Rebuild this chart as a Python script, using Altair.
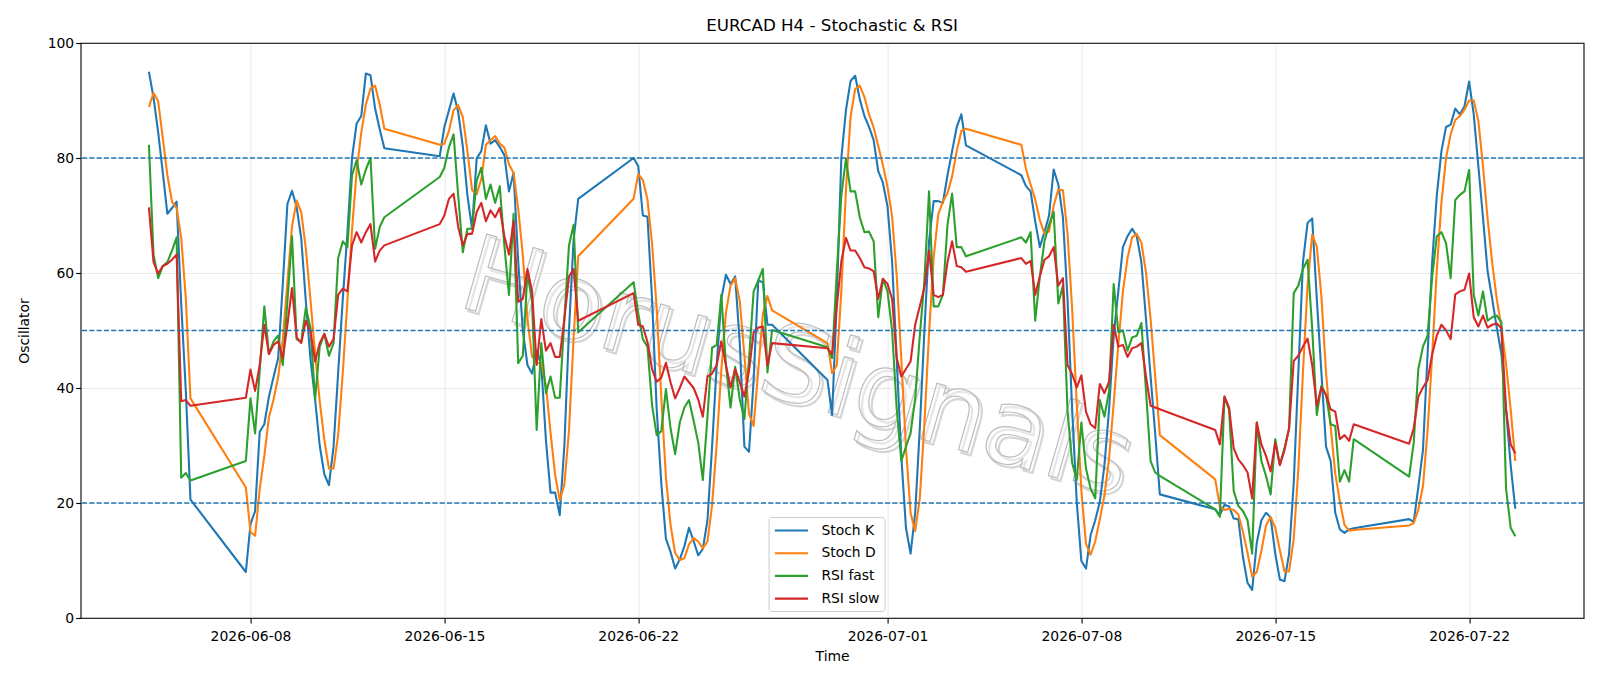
import altair as alt
import pandas as pd

# H4 bars: first bar of each trading session and number of bars in it
session_starts = [
    "2026-06-04 08:00", "2026-06-07 20:00", "2026-06-14 20:00", "2026-06-21 20:00",
    "2026-06-28 20:00", "2026-07-05 20:00", "2026-07-12 20:00", "2026-07-19 20:00",
]
session_bars = [10, 31, 31, 31, 31, 31, 31, 24]

stoch_k = [
    95.0, 90.5, 84.5, 77.5, 70.3, 71.3, 72.4, 54.6, 39.4, 20.6,
    8.0, 16.3, 18.6, 32.4, 33.7, 38.5, 41.9, 45.2, 58.0, 72.0, 74.3, 71.5, 66.0, 55.0, 45.0, 38.0,
    30.0, 25.0, 23.1, 29.8, 42.7, 55.5, 67.0, 80.0, 86.0, 87.3, 94.7, 94.4, 88.6, 85.0, 81.7,
    80.3, 85.4, 88.3, 91.2, 88.0, 82.0, 73.5, 67.7, 79.9, 81.2, 85.7, 82.5, 83.1, 81.9, 80.5, 74.2,
    77.4, 62.0, 50.0, 44.0, 42.5, 46.5, 44.0, 31.0, 21.8, 21.8, 17.9, 30.0, 50.0, 65.8, 72.9,
    80.0, 78.6, 70.0, 69.8, 55.5, 36.3, 23.4, 13.8, 11.5, 8.6, 10.2, 12.5, 15.7, 13.4, 10.9, 12.0,
    17.0, 29.8, 44.0, 55.5, 59.7, 58.1, 59.4, 47.8, 29.8, 28.9, 41.4, 58.7, 58.4, 51.0, 51.0,
    41.4, 35.3, 55.0, 80.0, 88.3, 93.4, 94.3, 90.2, 87.3, 85.4, 83.1, 77.7, 75.7, 71.6, 62.0, 45.0,
    28.0, 15.7, 11.2, 18.3, 33.0, 50.0, 65.5, 72.5, 72.5, 72.2, 77.0, 81.2, 85.4, 87.6, 82.2,
    77.0, 75.1, 74.2, 69.0, 64.5, 67.1, 70.0, 78.0, 75.4, 69.7, 55.5, 36.3, 20.2, 9.9, 8.6, 14.4,
    17.0, 20.2, 26.6, 36.3, 49.1, 56.8, 64.5, 66.4, 67.7, 66.4, 61.9, 52.0, 42.0, 32.0, 21.5,
    18.9, 17.9, 19.7, 19.4, 17.3, 17.2, 10.6, 6.1, 4.9, 13.1, 17.0, 18.3, 17.5, 11.2, 6.7, 6.4,
    11.2, 23.4, 42.7, 61.9, 68.7, 69.5, 55.5, 42.7, 29.8, 27.3, 18.3, 15.4, 14.8, 15.4, 15.6,
    17.2, 16.7, 22.8, 29.2, 45.9, 62.0, 73.5, 81.2, 85.4, 85.8, 88.6, 87.6, 89.0, 93.3, 87.6, 78.6,
    69.7, 60.3, 55.5, 50.4, 45.9, 36.3, 26.6, 19.0,
]

stoch_d = [
    88.9, 91.3, 89.9, 83.5, 77.0, 72.4, 71.3, 66.1, 55.5, 38.2,
    22.7, 15.0, 14.3, 22.4, 28.2, 34.9, 38.0, 41.9, 48.4, 58.4, 68.1, 72.6, 70.6, 64.2, 55.3, 46.0,
    37.7, 31.0, 26.0, 26.0, 31.9, 42.7, 55.1, 67.5, 77.7, 84.4, 89.3, 92.1, 92.6, 89.3, 85.1,
    82.3, 82.5, 84.7, 88.3, 89.2, 87.1, 81.2, 74.4, 73.7, 76.3, 82.3, 83.1, 83.8, 82.5, 81.8, 78.9,
    77.4, 71.2, 63.1, 52.0, 45.5, 44.3, 44.3, 40.5, 32.3, 24.9, 20.5, 23.2, 32.6, 48.6, 62.9,
    72.9, 77.2, 76.2, 72.8, 65.1, 53.9, 38.4, 24.5, 16.2, 11.3, 10.1, 10.4, 12.8, 13.9, 13.3, 12.1,
    13.3, 19.6, 30.3, 43.1, 53.1, 57.8, 59.1, 55.1, 45.7, 35.5, 33.4, 43.0, 52.8, 56.0, 53.5,
    47.8, 42.6, 43.9, 56.8, 74.4, 87.2, 92.0, 92.6, 90.6, 87.6, 85.3, 82.1, 78.8, 75.0, 69.8, 59.5,
    45.0, 29.6, 18.3, 15.1, 20.8, 33.8, 49.5, 62.7, 70.2, 72.4, 73.9, 76.8, 81.2, 84.7, 85.1,
    82.3, 78.1, 75.4, 72.8, 69.2, 66.9, 67.2, 71.7, 74.5, 74.4, 66.9, 53.8, 37.3, 22.1, 12.9, 11.0,
    13.3, 17.2, 21.3, 27.7, 37.3, 47.4, 56.8, 62.6, 66.2, 66.8, 65.3, 60.1, 52.0, 42.0, 31.8,
    24.1, 19.4, 18.8, 19.0, 18.8, 18.0, 15.0, 11.3, 7.2, 8.0, 11.7, 16.1, 17.6, 15.7, 11.8, 8.1,
    8.1, 13.7, 25.8, 42.7, 57.8, 66.7, 64.6, 55.9, 42.7, 33.3, 25.1, 20.3, 16.2, 15.2, 15.3,
    16.1, 16.5, 18.9, 22.9, 32.6, 45.7, 60.5, 72.2, 80.0, 84.1, 86.6, 87.3, 88.4, 90.0, 90.0, 86.5,
    78.6, 69.5, 61.8, 55.4, 50.6, 44.2, 36.3, 27.3,
]

rsi_fast = [
    82.3, 63.2, 59.1, 61.2, 61.9, 63.9, 66.2, 24.4, 25.2, 23.9,
    27.3, 38.2, 32.1, 43.0, 54.2, 45.9, 48.1, 49.1, 44.0, 55.0, 66.4, 48.5, 48.0, 54.0, 50.5, 38.0,
    47.2, 49.4, 45.6, 47.8, 62.6, 65.5, 64.5, 77.0, 79.6, 75.4, 78.0, 80.0, 64.2, 68.0, 69.7,
    76.7, 78.3, 81.9, 84.1, 73.5, 63.6, 67.7, 67.7, 76.0, 78.3, 72.9, 75.4, 72.2, 75.1, 64.8, 56.2,
    70.3, 44.3, 45.6, 60.0, 55.0, 32.7, 47.8, 39.1, 42.0, 38.3, 38.3, 52.0, 64.8, 68.4, 49.7,
    58.4, 53.0, 48.5, 47.2, 37.0, 31.8, 32.5, 39.8, 33.0, 28.5, 34.0, 36.6, 37.9, 34.3, 30.5, 24.0,
    35.0, 47.0, 47.5, 56.2, 44.0, 36.6, 43.7, 38.0, 34.6, 45.0, 56.8, 58.7, 60.7, 42.7, 50.1,
    47.1, 45.2, 60.0, 73.5, 79.9, 74.2, 74.2, 69.7, 67.1, 67.2, 65.5, 52.3, 59.0, 56.8, 50.0, 36.3,
    27.3, 29.8, 32.1, 38.2, 49.1, 58.7, 74.2, 54.2, 54.2, 56.2, 68.4, 73.8, 64.5, 64.5, 62.9,
    66.2, 65.3, 67.1, 51.7, 59.4, 65.5, 68.4, 70.6, 54.7, 57.8, 36.0, 27.0, 24.0, 34.0, 26.0, 22.5,
    20.8, 37.9, 35.0, 39.5, 58.1, 49.7, 50.0, 46.5, 48.8, 49.1, 51.3, 39.5, 27.3, 25.3, 24.7,
    18.9, 17.6, 38.5, 36.2, 22.1, 19.5, 18.6, 17.0, 11.2, 34.0, 27.3, 24.7, 21.5, 31.1, 26.6, 29.5,
    33.0, 56.5, 57.8, 60.7, 62.3, 50.4, 35.3, 40.4, 38.8, 33.7, 33.4, 23.7, 25.7, 23.7, 31.1,
    24.6, 30.5, 43.3, 47.2, 49.1, 59.4, 66.4, 67.1, 65.2, 59.1, 72.7, 73.6, 74.2, 77.9, 56.2, 52.6,
    56.8, 51.7, 52.3, 52.6, 51.4, 22.5, 15.7, 14.2,
]

rsi_slow = [
    71.4, 61.9, 59.9, 61.2, 61.6, 62.3, 63.2, 37.7, 37.9, 36.9,
    38.3, 43.2, 39.5, 44.0, 51.0, 45.9, 47.5, 48.1, 45.2, 51.0, 57.4, 48.8, 47.8, 51.7, 49.8, 44.6,
    47.8, 49.4, 47.2, 48.5, 56.2, 57.3, 56.8, 64.8, 67.1, 65.3, 67.1, 68.5, 62.0, 63.9, 64.8,
    68.5, 70.0, 72.9, 73.8, 68.0, 64.8, 66.8, 66.8, 70.6, 72.2, 69.0, 70.9, 69.7, 71.3, 66.4, 63.2,
    69.0, 55.0, 55.5, 60.7, 56.8, 44.0, 52.0, 46.5, 47.8, 45.4, 45.4, 52.0, 59.4, 60.7, 51.7,
    56.5, 51.0, 50.7, 48.0, 43.3, 41.1, 41.8, 44.4, 41.0, 38.2, 40.0, 42.0, 41.0, 40.0, 38.0, 35.0,
    42.0, 42.5, 44.0, 48.1, 44.0, 40.1, 43.3, 41.0, 38.5, 43.0, 49.7, 50.5, 50.7, 43.9, 47.8,
    46.9, 45.9, 54.0, 62.0, 66.1, 63.9, 63.9, 62.6, 61.0, 60.8, 60.3, 55.5, 59.0, 58.1, 55.5, 45.2,
    42.0, 43.3, 44.6, 51.0, 54.2, 57.5, 63.9, 56.2, 55.8, 56.2, 61.9, 65.5, 61.2, 61.0, 60.2,
    62.6, 61.6, 62.1, 56.2, 59.4, 62.3, 62.9, 64.5, 57.8, 59.1, 44.0, 42.4, 40.1, 42.2, 35.9, 33.7,
    33.0, 40.7, 39.1, 41.1, 51.0, 47.2, 47.5, 45.4, 46.9, 47.2, 47.8, 42.0, 36.9, 36.6, 36.3,
    32.7, 30.2, 38.5, 36.6, 29.5, 27.6, 26.6, 25.3, 20.8, 34.0, 30.2, 28.2, 25.5, 30.5, 26.6, 29.2,
    33.0, 44.7, 45.6, 47.2, 48.6, 44.0, 36.9, 40.1, 38.8, 36.3, 35.9, 31.1, 31.8, 30.8, 33.7,
    30.3, 33.0, 38.5, 40.1, 41.4, 45.9, 49.1, 51.0, 50.0, 48.5, 56.3, 56.8, 57.1, 59.9, 52.3, 50.7,
    52.6, 50.5, 51.0, 51.2, 50.4, 36.3, 30.2, 28.6,
]

series_names = ["Stoch K", "Stoch D", "RSI fast", "RSI slow"]
series_colors = ["#1f77b4", "#ff7f0e", "#2ca02c", "#d62728"]
levels = [20, 50, 80]
tick_dates = [(6, 8), (6, 15), (6, 22), (7, 1), (7, 8), (7, 15), (7, 22)]
chart_title = "EURCAD H4 - Stochastic & RSI"
watermark_text = "HorusSignals"

times = []
for start, n in zip(session_starts, session_bars):
    times += [t.strftime("%Y-%m-%dT%H:%M:%S") for t in pd.date_range(start, periods=n, freq="4h")]

rows = []
for name, vals in zip(series_names, [stoch_k, stoch_d, rsi_fast, rsi_slow]):
    for t, v in zip(times, vals):
        rows.append({"time": t, "value": v, "series": name})
df = pd.DataFrame(rows)

W, H = 1503, 575
FONT = "DejaVu Sans"

x_scale = alt.Scale(domain=[
    alt.DateTime(year=2026, month=6, date=1, hours=20, minutes=48),
    alt.DateTime(year=2026, month=7, date=26, hours=3, minutes=12),
])
x_axis = alt.Axis(
    values=[alt.DateTime(year=2026, month=m, date=d) for m, d in tick_dates],
    format="%Y-%m-%d", title="Time", labelFlush=False, labelPadding=7, titlePadding=6,
)
y_axis = alt.Axis(values=[0, 20, 40, 60, 80, 100], title="Oscillator", titlePadding=16)

# legend handle: a 33px horizontal stroke inside a 14px layout cell
color = alt.Color(
    "series:N",
    scale=alt.Scale(domain=series_names, range=series_colors),
    legend=alt.Legend(
        title=None, orient="none", legendX=688, legendY=474,
        symbolType="M-1.03,0L3.69,0", symbolSize=196, symbolStrokeWidth=2.1,
        labelFont=FONT, labelFontSize=13.9, labelColor="black", labelOffset=30.8,
        rowPadding=6.7, padding=5, strokeColor="#cccccc", fillColor="white", cornerRadius=3,
    ),
)

base = alt.Chart(df)
label_df = pd.DataFrame({"t": [watermark_text]})

watermark_shadow = alt.Chart(label_df).mark_text(
    font=FONT, fontSize=106, angle=16, align="center", baseline="middle",
    fillOpacity=0, stroke="#d6d6d6", strokeWidth=2.2,
).encode(text="t:N", x=alt.value(719), y=alt.value(330))
watermark = alt.Chart(label_df).mark_text(
    font=FONT, fontSize=106, angle=16, align="center", baseline="middle",
    fill="white", fillOpacity=0.4, stroke="#bdbdbd", strokeWidth=1.2,
).encode(text="t:N", x=alt.value(716), y=alt.value(327))

lines = [
    base.transform_filter(alt.datum.series == name).mark_line(
        strokeWidth=2.08, strokeJoin="round"
    ).encode(
        x=alt.X("time:T", scale=x_scale, axis=x_axis),
        y=alt.Y("value:Q", scale=alt.Scale(domain=[0, 100], nice=False), axis=y_axis),
        color=color,
    )
    for name in series_names
]

level_rules = alt.Chart(pd.DataFrame({"level": levels})).mark_rule(
    color="#1f77b4", strokeDash=[5.1, 2.2], strokeWidth=1.4
).encode(y=alt.Y("level:Q"))

title_text = alt.Chart(pd.DataFrame({"t": [chart_title]})).mark_text(
    font=FONT, fontSize=16.7, color="black", align="center", baseline="alphabetic",
).encode(text="t:N", x=alt.value(W / 2), y=alt.value(-12.4))

chart = alt.layer(watermark_shadow, watermark, *lines, level_rules, title_text).properties(
    width=W, height=H,
    padding={"left": 80.6, "top": 43, "right": 16.4, "bottom": 68},
    autosize=alt.AutoSizeParams(type="none"),
    background="white",
).configure_view(
    stroke="black", strokeWidth=1.1
).configure_axis(
    domain=False, labelFont=FONT, labelFontSize=13.9, labelColor="black",
    titleFont=FONT, titleFontSize=13.9, titleFontWeight="normal", titleColor="black",
    tickColor="black", tickSize=4.9, tickWidth=1.1,
    gridColor="#b0b0b0", gridOpacity=0.35, gridWidth=0.8,
)

chart.save("out.html", embed_options={"renderer": "svg", "actions": False})
